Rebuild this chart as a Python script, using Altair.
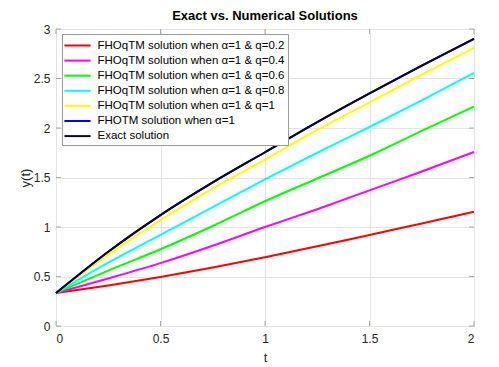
import altair as alt
import pandas as pd

t_values = [0, 0.25, 0.5, 0.75, 1.0, 1.25, 1.5, 1.75, 2.0]

y_q02 = [0.333, 0.410, 0.495, 0.590, 0.695, 0.805, 0.920, 1.035, 1.154]
y_q04 = [0.333, 0.480, 0.635, 0.810, 1.000, 1.180, 1.370, 1.560, 1.757]
y_q06 = [0.333, 0.560, 0.775, 1.010, 1.260, 1.490, 1.720, 1.970, 2.217]
y_q08 = [0.333, 0.640, 0.920, 1.200, 1.480, 1.750, 2.010, 2.280, 2.556]
y_q1 = [0.333, 0.720, 1.070, 1.390, 1.680, 1.980, 2.260, 2.540, 2.810]
y_fhotm = [0.333, 0.750, 1.120, 1.450, 1.755, 2.060, 2.350, 2.630, 2.900]
y_exact = [0.333, 0.750, 1.120, 1.450, 1.755, 2.060, 2.350, 2.630, 2.900]

series_names = [
    "FHOqTM solution when α=1 & q=0.2",
    "FHOqTM solution when α=1 & q=0.4",
    "FHOqTM solution when α=1 & q=0.6",
    "FHOqTM solution when α=1 & q=0.8",
    "FHOqTM solution when α=1 & q=1",
    "FHOTM solution when α=1",
    "Exact solution",
]
series_colors = ["#ff0000", "#ff00ff", "#00ff00", "#00ffff", "#ffff00", "#0000ff", "#0a0a2a"]
series_values = [y_q02, y_q04, y_q06, y_q08, y_q1, y_fhotm, y_exact]

x_ticks = [0, 0.5, 1, 1.5, 2]
y_ticks = [0, 0.5, 1, 1.5, 2, 2.5, 3]

rows = []
for k, (name, vals) in enumerate(zip(series_names, series_values)):
    for t, v in zip(t_values, vals):
        rows.append({"t": t, "y": v, "series": name, "k": k})
df = pd.DataFrame(rows)

W, H = 418, 297
frame = "#8a8a8a"
font = "Liberation Sans"

xscale = alt.Scale(domain=[0, 2], nice=False)
yscale = alt.Scale(domain=[0, 3], nice=False)

lines = alt.Chart(df).mark_line(strokeWidth=2, interpolate="monotone").encode(
    x=alt.X("t:Q", scale=xscale,
            axis=alt.Axis(values=x_ticks, title="t", format="~g")),
    y=alt.Y("y:Q", scale=yscale,
            axis=alt.Axis(values=y_ticks, title="y(t)", format="~g")),
    color=alt.Color("series:N",
                    scale=alt.Scale(domain=series_names, range=series_colors),
                    legend=alt.Legend(
                        title=None, orient="none", legendX=6, legendY=5,
                        symbolType="M-1.85,0H1.85", symbolSize=200, symbolStrokeWidth=2,
                        symbolOffset=4, labelOffset=11.5,
                        labelFontSize=11.5, labelFont=font, labelLimit=0,
                        labelColor="#000000",
                        fillColor="#ffffff", strokeColor="#9a9a9a",
                        padding=3, rowPadding=1.1,
                    )),
    order=alt.Order("k:Q"),
    detail="series:N",
)

xt_df = pd.DataFrame({"t": x_ticks})
yt_df = pd.DataFrame({"y": y_ticks})

xt_bottom = alt.Chart(xt_df).mark_tick(color=frame, size=5, thickness=1, yOffset=-2.5).encode(
    x=alt.X("t:Q", scale=xscale), y=alt.value(H))
xt_top = alt.Chart(xt_df).mark_tick(color=frame, size=5, thickness=1, yOffset=2.5).encode(
    x=alt.X("t:Q", scale=xscale), y=alt.value(0))
yt_left = alt.Chart(yt_df).mark_tick(color=frame, size=5, thickness=1, xOffset=2.5, orient="horizontal").encode(
    y=alt.Y("y:Q", scale=yscale), x=alt.value(0))
yt_right = alt.Chart(yt_df).mark_tick(color=frame, size=5, thickness=1, xOffset=-2.5, orient="horizontal").encode(
    y=alt.Y("y:Q", scale=yscale), x=alt.value(W))

chart = alt.layer(lines, xt_bottom, xt_top, yt_left, yt_right).properties(
    width=W, height=H,
    title=alt.TitleParams("Exact vs. Numerical Solutions", fontSize=13, fontWeight="bold",
                          font=font, color="#000000", offset=0, anchor="middle",
                          frame="group"),
    autosize=alt.AutoSizeParams(type="none"),
    padding={"left": 48, "top": 21, "right": 17, "bottom": 40},
).configure_view(
    stroke=frame, strokeWidth=1
).configure_axis(
    grid=True, gridColor="#e4e4e4", gridWidth=1,
    domain=False, ticks=False,
    labelFont=font, labelFontSize=12, labelColor="#262626",
    titleFont=font, titleFontSize=13, titleColor="#262626", titleFontWeight="normal",
).configure_axisX(
    labelPadding=7, titlePadding=7,
).configure_axisY(
    labelPadding=6, titlePadding=1,
)

chart.save("out.html", embed_options={"renderer": "svg", "actions": False})
